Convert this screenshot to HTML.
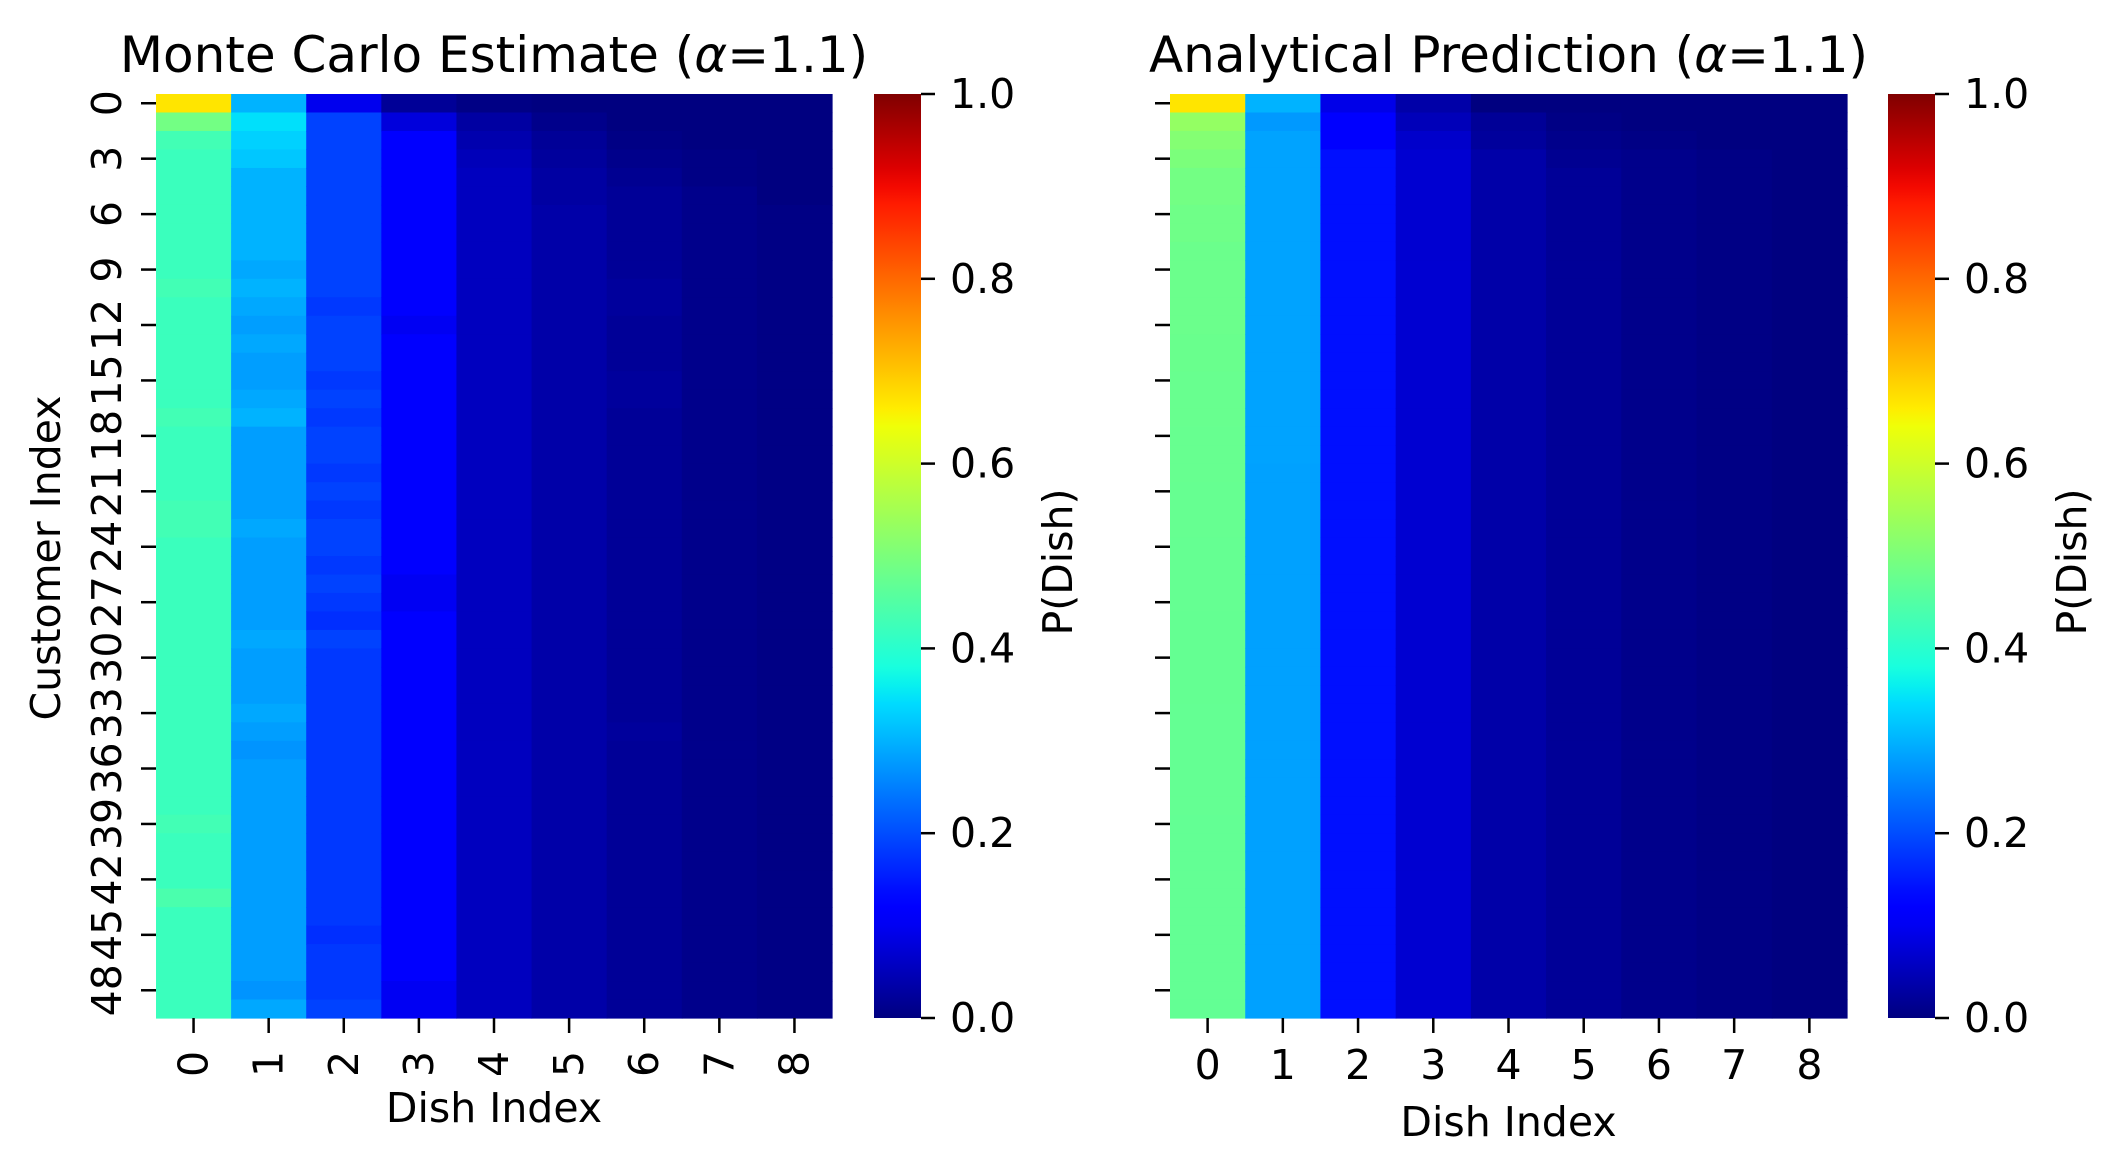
<!DOCTYPE html>
<html><head><meta charset="utf-8"><title>Monte Carlo vs Analytical</title>
<style>html,body{margin:0;padding:0;background:#fff}svg{display:block}text{font-family:"DejaVu Sans","Liberation Sans",sans-serif;fill:#000}</style>
</head><body>
<svg id="chart" width="2117" height="1174" viewBox="0 0 2117 1174" xmlns="http://www.w3.org/2000/svg">
<defs><linearGradient id="jetgrad" x1="0" y1="1" x2="0" y2="0"></linearGradient></defs>
</svg>
<script>
// ---------- data ----------
const dishes = [0,1,2,3,4,5,6,7,8];
const customerTicks = [0,3,6,9,12,15,18,21,24,27,30,33,36,39,42,45,48];
const colorbarTicks = [0.0,0.2,0.4,0.6,0.8,1.0];
const colorbarTickLabels = ["0.0","0.2","0.4","0.6","0.8","1.0"];
// Monte Carlo estimate, one array per dish (50 customers)
const mcDish0 = [0.667,0.49,0.43,0.42,0.42,0.42,0.42,0.42,0.42,0.42,0.43,0.42,0.42,0.42,0.42,0.42,0.42,0.43,0.42,0.42,0.42,0.42,0.43,0.43,0.42,0.42,0.42,0.42,0.42,0.42,0.42,0.42,0.42,0.42,0.42,0.42,0.42,0.42,0.42,0.43,0.42,0.42,0.42,0.44,0.42,0.42,0.42,0.42,0.42,0.42];
const mcDish1 = [0.30,0.345,0.33,0.32,0.30,0.30,0.30,0.30,0.30,0.29,0.30,0.29,0.28,0.29,0.28,0.28,0.29,0.30,0.28,0.28,0.28,0.28,0.28,0.29,0.28,0.28,0.28,0.28,0.28,0.29,0.28,0.28,0.28,0.29,0.28,0.27,0.28,0.28,0.28,0.28,0.28,0.28,0.28,0.28,0.28,0.28,0.28,0.28,0.27,0.29];
const mcDish2 = [0.095,0.19,0.19,0.19,0.19,0.19,0.19,0.19,0.19,0.19,0.19,0.18,0.19,0.19,0.19,0.18,0.19,0.18,0.19,0.19,0.18,0.19,0.18,0.19,0.19,0.18,0.19,0.18,0.17,0.19,0.18,0.18,0.18,0.18,0.18,0.18,0.18,0.18,0.18,0.18,0.18,0.18,0.18,0.18,0.18,0.17,0.18,0.18,0.18,0.19];
const mcDish3 = [0.02,0.08,0.11,0.11,0.11,0.11,0.11,0.11,0.11,0.11,0.11,0.11,0.10,0.11,0.11,0.11,0.11,0.11,0.11,0.11,0.11,0.11,0.11,0.11,0.11,0.11,0.10,0.10,0.11,0.11,0.11,0.11,0.11,0.11,0.11,0.11,0.11,0.11,0.11,0.11,0.11,0.11,0.11,0.11,0.11,0.11,0.11,0.11,0.10,0.10];
const mcDish4 = [0.005,0.03,0.04,0.05,0.055,0.055,0.055,0.055,0.055,0.055,0.055,0.055,0.055,0.055,0.055,0.055,0.055,0.055,0.055,0.055,0.055,0.055,0.055,0.055,0.055,0.055,0.055,0.055,0.055,0.055,0.055,0.055,0.055,0.055,0.055,0.055,0.055,0.055,0.055,0.055,0.055,0.055,0.055,0.055,0.055,0.055,0.055,0.055,0.055,0.055];
const mcDish5 = [0.0,0.01,0.02,0.025,0.03,0.03,0.035,0.035,0.035,0.035,0.035,0.035,0.035,0.035,0.035,0.035,0.035,0.035,0.035,0.035,0.035,0.035,0.035,0.035,0.035,0.035,0.035,0.035,0.035,0.035,0.035,0.035,0.035,0.035,0.035,0.035,0.035,0.035,0.035,0.035,0.035,0.035,0.035,0.035,0.035,0.035,0.035,0.035,0.035,0.035];
const mcDish6 = [0.0,0.0,0.005,0.01,0.015,0.02,0.02,0.02,0.02,0.02,0.025,0.025,0.02,0.02,0.02,0.025,0.025,0.02,0.02,0.02,0.02,0.02,0.02,0.02,0.02,0.02,0.02,0.02,0.02,0.02,0.02,0.02,0.02,0.02,0.025,0.02,0.02,0.02,0.02,0.02,0.02,0.02,0.02,0.02,0.02,0.02,0.02,0.02,0.02,0.02];
const mcDish7 = [0.0,0.0,0.0,0.005,0.005,0.01,0.01,0.01,0.01,0.01,0.01,0.01,0.01,0.01,0.01,0.01,0.01,0.01,0.01,0.01,0.01,0.01,0.01,0.01,0.01,0.01,0.01,0.01,0.01,0.01,0.01,0.01,0.01,0.01,0.01,0.01,0.01,0.01,0.01,0.01,0.01,0.01,0.01,0.01,0.01,0.01,0.01,0.01,0.01,0.01];
const mcDish8 = [0.0,0.0,0.0,0.0,0.0,0.0,0.005,0.005,0.005,0.005,0.005,0.005,0.005,0.005,0.005,0.005,0.005,0.005,0.005,0.005,0.005,0.005,0.005,0.005,0.005,0.005,0.005,0.005,0.005,0.005,0.005,0.005,0.005,0.005,0.005,0.005,0.005,0.005,0.005,0.005,0.005,0.005,0.005,0.005,0.005,0.005,0.005,0.005,0.005,0.005];
// Analytical prediction
const anDish0 = [0.667,0.53,0.51,0.50,0.49,0.49,0.485,0.485,0.48,0.48,0.48,0.48,0.48,0.478,0.478,0.476,0.476,0.476,0.475,0.475,0.475,0.474,0.474,0.474,0.473,0.473,0.473,0.473,0.472,0.472,0.472,0.472,0.472,0.471,0.471,0.471,0.471,0.471,0.471,0.47,0.47,0.47,0.47,0.47,0.47,0.47,0.47,0.47,0.47,0.47];
const anDish1 = [0.30,0.275,0.285,0.285,0.285,0.285,0.285,0.285,0.285,0.285,0.285,0.285,0.285,0.285,0.285,0.285,0.285,0.285,0.285,0.285,0.283,0.283,0.283,0.283,0.283,0.283,0.283,0.283,0.283,0.283,0.283,0.283,0.283,0.283,0.283,0.283,0.283,0.283,0.283,0.283,0.283,0.283,0.283,0.283,0.283,0.283,0.283,0.283,0.283,0.283];
const anDish2 = [0.09,0.11,0.115,0.14,0.14,0.14,0.14,0.14,0.14,0.14,0.14,0.14,0.14,0.14,0.14,0.14,0.14,0.14,0.14,0.14,0.14,0.14,0.14,0.14,0.14,0.14,0.14,0.14,0.14,0.14,0.14,0.14,0.14,0.14,0.14,0.14,0.14,0.14,0.14,0.14,0.14,0.14,0.14,0.14,0.14,0.14,0.14,0.14,0.14,0.14];
const anDish3 = [0.035,0.05,0.065,0.07,0.07,0.07,0.07,0.07,0.07,0.07,0.07,0.07,0.07,0.07,0.07,0.07,0.07,0.07,0.07,0.07,0.07,0.07,0.07,0.07,0.07,0.07,0.07,0.07,0.07,0.07,0.07,0.07,0.07,0.07,0.07,0.07,0.07,0.07,0.07,0.07,0.07,0.07,0.07,0.07,0.07,0.07,0.07,0.07,0.07,0.07];
const anDish4 = [0.0,0.02,0.025,0.035,0.035,0.035,0.035,0.035,0.035,0.035,0.035,0.035,0.035,0.035,0.035,0.035,0.035,0.035,0.035,0.035,0.035,0.035,0.035,0.035,0.035,0.035,0.035,0.035,0.035,0.035,0.035,0.035,0.035,0.035,0.035,0.035,0.035,0.035,0.035,0.035,0.035,0.035,0.035,0.035,0.035,0.035,0.035,0.035,0.035,0.035];
const anDish5 = [0.0,0.005,0.01,0.015,0.02,0.02,0.02,0.02,0.02,0.02,0.02,0.02,0.02,0.02,0.02,0.02,0.02,0.02,0.02,0.02,0.02,0.02,0.02,0.02,0.02,0.02,0.02,0.02,0.02,0.02,0.02,0.02,0.02,0.02,0.02,0.02,0.02,0.02,0.02,0.02,0.02,0.02,0.02,0.02,0.02,0.02,0.02,0.02,0.02,0.02];
const anDish6 = [0.0,0.0,0.005,0.01,0.01,0.01,0.01,0.01,0.01,0.01,0.01,0.01,0.01,0.01,0.01,0.01,0.01,0.01,0.01,0.01,0.01,0.01,0.01,0.01,0.01,0.01,0.01,0.01,0.01,0.01,0.01,0.01,0.01,0.01,0.01,0.01,0.01,0.01,0.01,0.01,0.01,0.01,0.01,0.01,0.01,0.01,0.01,0.01,0.01,0.01];
const anDish7 = [0.0,0.0,0.0,0.005,0.005,0.005,0.005,0.005,0.005,0.005,0.005,0.005,0.005,0.005,0.005,0.005,0.005,0.005,0.005,0.005,0.005,0.005,0.005,0.005,0.005,0.005,0.005,0.005,0.005,0.005,0.005,0.005,0.005,0.005,0.005,0.005,0.005,0.005,0.005,0.005,0.005,0.005,0.005,0.005,0.005,0.005,0.005,0.005,0.005,0.005];
const anDish8 = [0.0,0.0,0.0,0.0,0.0,0.0,0.0,0.0,0.0,0.0,0.0,0.0,0.0,0.0,0.0,0.0,0.0,0.0,0.0,0.0,0.0,0.0,0.0,0.0,0.0,0.0,0.0,0.0,0.0,0.0,0.0,0.0,0.0,0.0,0.0,0.0,0.0,0.0,0.0,0.0,0.0,0.0,0.0,0.0,0.0,0.0,0.0,0.0,0.0,0.0];
const mcData = [mcDish0,mcDish1,mcDish2,mcDish3,mcDish4,mcDish5,mcDish6,mcDish7,mcDish8];
const anData = [anDish0,anDish1,anDish2,anDish3,anDish4,anDish5,anDish6,anDish7,anDish8];

// ---------- helpers ----------
const NS = "http://www.w3.org/2000/svg";
const svg = document.getElementById("chart");
const FT = 41, FTITLE = 50;
function mk(tag, attrs, parent){const e=document.createElementNS(NS,tag);for(const k in attrs)e.setAttribute(k,attrs[k]);(parent||svg).appendChild(e);return e;}
function interp(pts,v){for(let i=1;i<pts.length;i++){if(v<=pts[i][0]){const a=pts[i-1],b=pts[i];return a[1]+(b[1]-a[1])*(v-a[0])/(b[0]-a[0]);}}return pts[pts.length-1][1];}
function jet(v){v=Math.max(0,Math.min(1,v));
 const r=interp([[0,0],[0.35,0],[0.66,1],[0.89,1],[1,0.5]],v);
 const g=interp([[0,0],[0.125,0],[0.375,1],[0.64,1],[0.91,0],[1,0]],v);
 const b=interp([[0,0.5],[0.11,1],[0.34,1],[0.65,0],[1,0]],v);
 return `rgb(${Math.round(r*255)},${Math.round(g*255)},${Math.round(b*255)})`;}

const grad = document.getElementById("jetgrad");
for(let i=0;i<=50;i++){mk("stop",{offset:(i/50),"stop-color":jet(i/50)},grad);}

const TOP=94, BOTTOM=1018, NROWS=50;
const rowH=(BOTTOM-TOP)/NROWS;
function yRow(i){return TOP+i*rowH;}

function panel(x0,x1,data,title,rotatedX,showYLabels,cbX,cbLabelX,name){
 const g=mk("g",{});
 
 
 const colW=(x1-x0)/dishes.length;
 const xCol=j=>x0+j*colW;
 for(let j=0;j<dishes.length;j++){
  for(let i=0;i<NROWS;i++){
   const r=mk("rect",{x:xCol(j).toFixed(2),y:yRow(i).toFixed(2),width:(colW+0.6).toFixed(2),height:(rowH+0.6).toFixed(2),fill:jet(data[j][i])},g);
   
   
  }
 }
 const t=mk("text",{x:(x0+x1)/2,y:72,"font-size":FTITLE,"text-anchor":"middle"},g);
 
 
 t.innerHTML=title+' (<tspan font-style="italic">α</tspan>=1.1)';
 customerTicks.forEach(c=>{
  const y=yRow(c)+rowH/2;
  const tk=mk("line",{x1:x0-15,x2:x0,y1:y,y2:y,stroke:"#000","stroke-width":2.5},g);
  
  
  if(showYLabels){
   const tl=mk("text",{x:0,y:0,"font-size":FT,"text-anchor":"middle","dominant-baseline":"central",transform:`translate(107,${y}) rotate(-90)`},g);
   
   
   tl.textContent=c;
  }
 });
 dishes.forEach(d=>{
  const x=xCol(d)+colW/2;
  const tk=mk("line",{x1:x,x2:x,y1:BOTTOM,y2:BOTTOM+15,stroke:"#000","stroke-width":2.5},g);
  
  
  let tl;
  if(rotatedX){tl=mk("text",{x:0,y:0,"font-size":FT,"text-anchor":"middle","dominant-baseline":"central",transform:`translate(${x},1064) rotate(-90)`},g);}
  else{tl=mk("text",{x:x,y:1079,"font-size":FT,"text-anchor":"middle"},g);}
  
  
  tl.textContent=d;
 });
 const xl=mk("text",{x:(x0+x1)/2,y:rotatedX?1122:1136,"font-size":FT,"text-anchor":"middle"},g);
 
 
 xl.textContent="Dish Index";
 const cb=mk("rect",{x:cbX,y:TOP,width:47,height:BOTTOM-TOP,fill:"url(#jetgrad)"},g);
 
 
 colorbarTicks.forEach((v,k)=>{
  const y=BOTTOM-v*(BOTTOM-TOP);
  const tk=mk("line",{x1:cbX+47,x2:cbX+61,y1:y,y2:y,stroke:"#000","stroke-width":2.5},g);
  
  
  const tl=mk("text",{x:cbX+76,y:y,"font-size":FT,"dominant-baseline":"central"},g);
  
  
  tl.textContent=colorbarTickLabels[k];
 });
 const cl=mk("text",{x:0,y:0,"font-size":FT,"text-anchor":"middle","dominant-baseline":"central",transform:`translate(${cbLabelX},562) rotate(-90)`},g);
 
 
 cl.textContent="P(Dish)";
}

panel(156,832,mcData,"Monte Carlo Estimate",true,true,874,1058,"monte-carlo-panel");
panel(1170,1847,anData,"Analytical Prediction",false,false,1888,2072,"analytical-panel");

const yl=mk("text",{x:0,y:0,"font-size":FT,"text-anchor":"middle","dominant-baseline":"central",transform:"translate(46,558) rotate(-90)"});


yl.textContent="Customer Index";
</script>
</body></html>
